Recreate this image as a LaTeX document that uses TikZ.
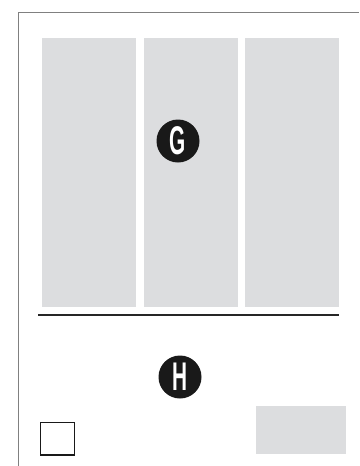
\documentclass[tikz,border=0pt]{standalone}
\usepackage{fontspec}
\newfontfamily\signfont[FakeStretch=0.52]{Liberation Sans}
\definecolor{panelgray}{HTML}{DCDDDF}
\tikzset{marker/.style={circle,fill=black!90,text=white,minimum size=43pt,inner sep=0pt,font=\fontsize{40}{40}\signfont\bfseries}}

\begin{document}
\begin{tikzpicture}[x=1pt,y=-1pt]
\useasboundingbox (0,0) rectangle (359,466);
\draw[black!50,line width=1pt] (18,466)--(18,12)--(359,12);
\foreach \a/\b in {42/136,144/238,245/339}
  \fill[panelgray] (\a,38) rectangle (\b,307);
\draw[black!85,line width=2pt] (38,315)--(339,315);
\fill[panelgray] (256,406) rectangle (346,454);
\draw[black!90,line width=1.5pt] (40.5,422.5) rectangle (74.5,455);
\node[marker] (G) at (178,141) {G};
\node[marker] (H) at (180,377) {H};
\end{tikzpicture}
\end{document}
